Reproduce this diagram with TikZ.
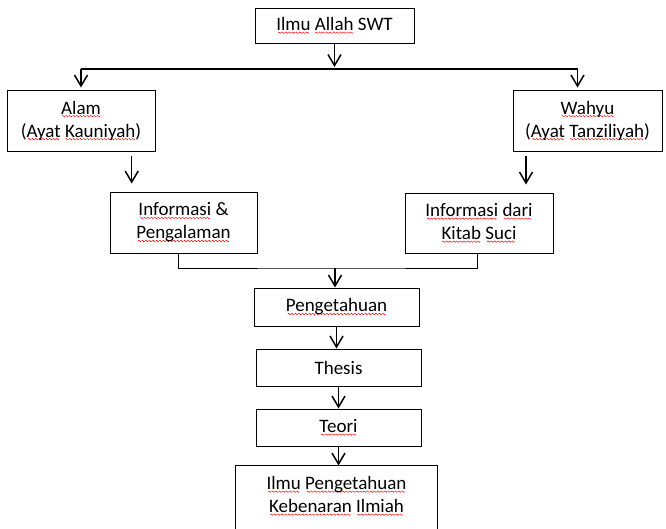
\documentclass[tikz,border=0pt]{standalone}
\usepackage{fontspec}
\setmainfont{Carlito}
\usetikzlibrary{arrows.meta}
\newsavebox\gelombang
\newcommand\salah[1]{\leavevmode\setbox0\hbox{#1}\rlap{\lower3pt\hbox to\wd0{\cleaders\copy\gelombang\hfil}}\box0\relax}
\tikzset{
	kotak/.style={draw, line width=1pt, inner sep=0pt, align=center, font=\fontsize{19}{23}\selectfont},
	panah/.style={line width=1.5pt, -{Straight Barb[length=11pt,width=13pt]}}
}

\begin{document}
\sbox\gelombang{\begin{pgfpicture}\pgfsetlinewidth{0.5pt}\pgfsetstrokecolor{red}\pgfpathmoveto{\pgfpoint{0pt}{0pt}}\pgfpathsine{\pgfpoint{0.75pt}{0.7pt}}\pgfpathcosine{\pgfpoint{0.75pt}{-0.7pt}}\pgfpathsine{\pgfpoint{0.75pt}{-0.7pt}}\pgfpathcosine{\pgfpoint{0.75pt}{0.7pt}}\pgfusepath{stroke}\end{pgfpicture}}
\begin{tikzpicture}[x=1pt,y=-1pt]
		\useasboundingbox (0,0) rectangle (666,528);
		\clip (0,0) rectangle (666,528);

		\node[kotak, minimum width=159pt, minimum height=35pt] (atas) at (334.5,25.5) {\salah{Ilmu} \salah{Allah} SWT};
		\node[kotak, minimum width=148pt, minimum height=61pt] (alam) at (81,120.5) {\salah{Alam}\\(\salah{Ayat} \salah{Kauniyah})};
		\node[kotak, minimum width=149pt, minimum height=61pt] (wahyu) at (587.5,120.5) {\salah{Wahyu}\\(\salah{Ayat} \salah{Tanziliyah})};
		\node[kotak, minimum width=147pt, minimum height=61pt] (info1) at (183.5,222.5) {\salah{Informasi} \&\\\salah{Pengalaman}};
		\node[kotak, minimum width=148pt, minimum height=60pt] (info2) at (479,223) {\salah{Informasi} \salah{dari}\\\salah{Kitab} \salah{Suci}};
		\node[kotak, minimum width=165pt, minimum height=38pt] (peng) at (336.5,307) {\salah{Pengetahuan}};
		\node[kotak, minimum width=165pt, minimum height=37pt] (thesis) at (338.5,367.5) {Thesis};
		\node[kotak, minimum width=165pt, minimum height=37pt] (teori) at (338.5,427.5) {\salah{Teori}};
		\node[kotak, draw=none, minimum width=201pt, minimum height=60pt] (ilmu) at (336.5,496) {\salah{Ilmu} \salah{Pengetahuan}\\\salah{Kebenaran} \salah{Ilmiah}};
		\draw[line width=1pt] ([yshift=-20pt]ilmu.south west) -- (ilmu.north west) -- (ilmu.north east) -- ([yshift=-20pt]ilmu.south east);

		\coordinate (cab) at (334,69);
		\coordinate (gabung) at (335,268);

		\draw[panah, shorten >=2pt] (atas.south) -- (atas.south |- cab);
		\draw[line width=1.3pt] (alam.north |- cab) -- ([xshift=-10pt]wahyu.north |- cab);
		\draw[panah, shorten >=2pt] (alam.north |- cab) -- (alam.north);
		\draw[panah, shorten >=2pt] ([xshift=-10pt]wahyu.north |- cab) -- ([xshift=-10pt]wahyu.north);
		\draw[panah] ([shift={(50.7,4)}]alam.south) -- ([shift={(-51.8,-8)}]info1.north);
		\draw[panah] ([shift={(-61.5,4)}]wahyu.south) -- ([shift={(47,-8)}]info2.north);
		\draw[line width=1pt] ([xshift=-5.5pt]info1.south) |- (gabung) -| ([xshift=-2pt]info2.south);
		\draw[panah] (gabung) -- (gabung |- peng.north);
		\draw[panah] (peng.south) -- (peng.south |- thesis.north);
		\draw[panah] (thesis.south) -- (thesis.south |- teori.north);
		\draw[panah] (teori.south) -- (teori.south |- ilmu.north);
	\end{tikzpicture}
\end{document}
